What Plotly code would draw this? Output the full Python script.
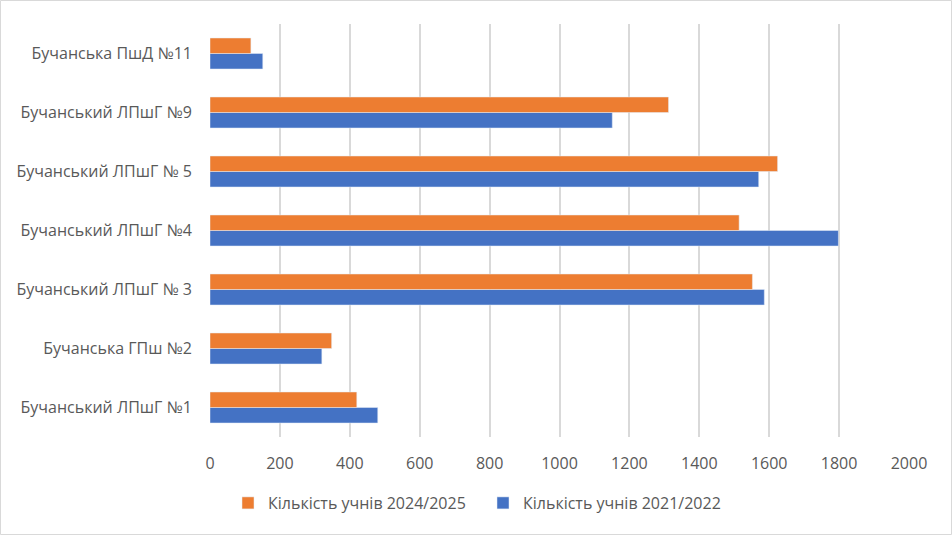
import plotly.graph_objects as go

categories = [
    "Бучанський ЛПшГ №1",
    "Бучанська ГПш №2",
    "Бучанський ЛПшГ № 3",
    "Бучанський ЛПшГ №4",
    "Бучанський ЛПшГ № 5",
    "Бучанський ЛПшГ №9",
    "Бучанська ПшД №11",
]
students_2021 = [480, 320, 1586, 1798, 1570, 1151, 151]
students_2024 = [420, 348, 1552, 1514, 1624, 1312, 117]
x_ticks = [0, 200, 400, 600, 800, 1000, 1200, 1400, 1600, 1800, 2000]

fig = go.Figure()
fig.add_trace(go.Bar(
    y=categories, x=students_2021, orientation="h",
    name="Кількість учнів 2021/2022", marker_color="#4472C4",
))
fig.add_trace(go.Bar(
    y=categories, x=students_2024, orientation="h",
    name="Кількість учнів 2024/2025", marker_color="#ED7D31",
))

L, R, T, B = 210, 43, 24, 98
W, H = 952, 535
pw, ph = W - L - R, H - T - B
FS = 16

fig.update_layout(
    width=W, height=H,
    margin=dict(l=L, r=R, t=T, b=B, pad=0),
    paper_bgcolor="white", plot_bgcolor="white",
    barmode="group", bargap=0.475, bargroupgap=0,
    font=dict(family="Open Sans, sans-serif", size=FS, color="#595959"),
    showlegend=True,
    legend=dict(
        orientation="h", traceorder="reversed",
        x=(483 - L) / pw, xanchor="center",
        y=-66 / ph, yanchor="middle",
        font=dict(size=FS, color="#595959"),
        itemwidth=30, entrywidth=210, entrywidthmode="pixels",
    ),
    xaxis=dict(
        range=[0, 2000], tickvals=x_ticks, showgrid=True,
        gridcolor="#D9D9D9", gridwidth=1.5, zeroline=False,
        showline=False, ticks="", ticklabelstandoff=15,
        tickfont=dict(size=FS, color="#595959"), fixedrange=True,
    ),
    yaxis=dict(
        categoryorder="array", categoryarray=categories,
        showgrid=False, zeroline=False, showline=False,
        ticks="", ticklabelstandoff=17,
        tickfont=dict(size=FS, color="#595959"),
    ),
    shapes=[dict(
        type="rect", xref="paper", yref="paper",
        x0=-(L - 0.5) / pw, x1=1 + (R - 0.5) / pw,
        y0=-(B - 0.5) / ph, y1=1 + (T - 0.5) / ph,
        line=dict(color="#D9D9D9", width=1), fillcolor="rgba(0,0,0,0)",
        layer="below",
    )],
)

fig.write_html(
    "out.html",
    config={"displayModeBar": False},
    post_script="document.body.style.margin='0';document.body.style.overflow='hidden';",
)
